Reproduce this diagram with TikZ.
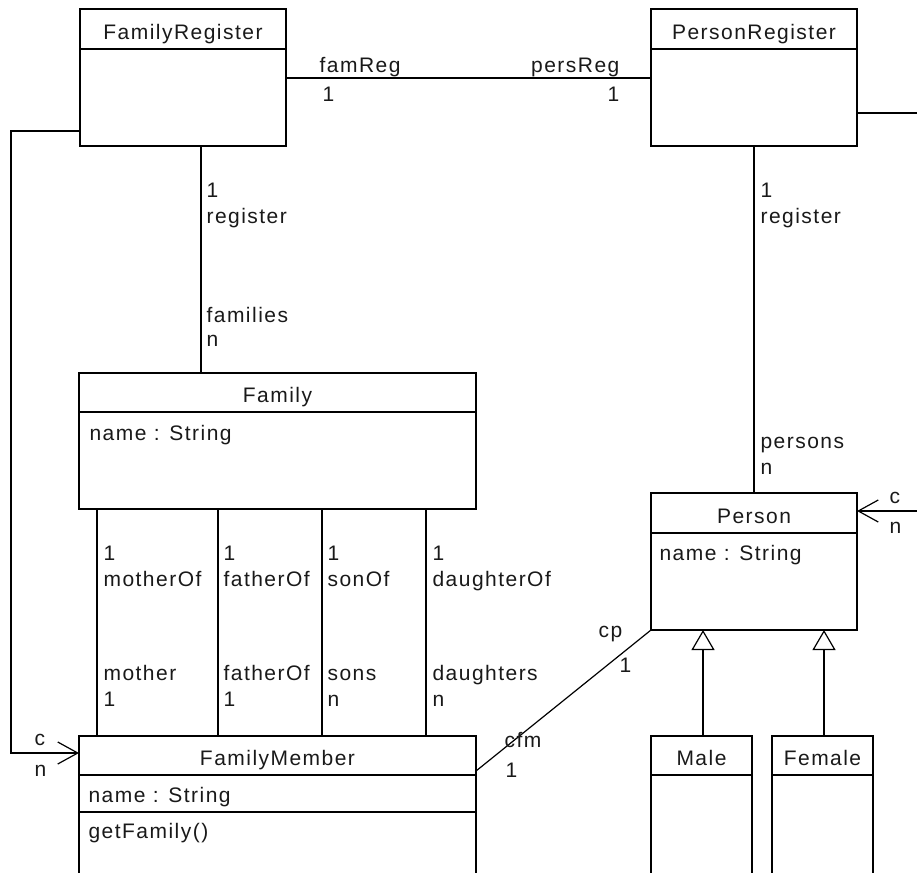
\documentclass[tikz,border=0pt]{standalone}
\usepackage{fontspec}
\setmainfont{Liberation Sans}[LetterSpace=7]
\usetikzlibrary{arrows.meta,calc}
\newcommand{\umlclass}[7]{%
  \node[box, minimum width=#4pt, minimum height=#5pt] (#1) at (#2,#3) {};
  \draw ([yshift=-#6pt]#1.north west) -- ([yshift=-#6pt]#1.north east);
  \node[ttl] (#1-title) at ([yshift=-#6pt+9.5pt]#1.north) {#7};
}
\begin{document}
\begin{tikzpicture}[x=1pt,y=-1pt,
  line width=1.2pt,
  box/.style={draw, rectangle, inner sep=0pt, outer sep=0pt, anchor=north west},
  txt/.style={inner sep=0pt, font=\fontsize{21pt}{25pt}\selectfont, text=black!90},
  lbl/.style={txt, anchor=base west},
  lblr/.style={txt, anchor=base east},
  ttl/.style={txt, anchor=base},
  openarrow/.style={-{Straight Barb[length=20pt,width=22pt,line width=1.2pt]}},
  inh/.style={-{Triangle[open,length=20pt,width=23pt,fill=white,line width=1.2pt]}},
]
\useasboundingbox (0,0) rectangle (917,872);

% classes
\umlclass{FR}{80}{9}{206}{137}{40}{FamilyRegister}
\umlclass{PR}{651}{9}{206}{137}{40}{PersonRegister}
\umlclass{Fam}{79}{373}{397}{136}{39}{Family}
\umlclass{FM}{79}{736}{397}{150}{39}{FamilyMember}
\draw ([yshift=-76pt]FM.north west) -- ([yshift=-76pt]FM.north east);
\umlclass{Per}{651}{493}{206}{137}{40}{Person}
\umlclass{Male}{651}{736}{101}{150}{39}{Male}
\umlclass{Fem}{772}{736}{101}{150}{39}{Female}

% attributes / operations
\node[lbl] (Fam-a) at ([xshift=10pt,yshift=-67pt]Fam.north west) {name : String};
\node[lbl] (FM-a) at ([xshift=9pt,yshift=-66pt]FM.north west) {name : String};
\node[lbl] (FM-o) at ([xshift=9pt,yshift=-102pt]FM.north west) {getFamily()};
\node[lbl] (Per-a) at ([xshift=8pt,yshift=-67pt]Per.north west) {name : String};

% connectors
\coordinate (frR) at ([yshift=-69pt]FR.north east);
\draw (frR) -- (frR -| PR.west);

\coordinate (prR) at ([yshift=-104pt]PR.north east);
\coordinate (prEnd) at (917,113);
\draw (prR) -- (prEnd);

\coordinate (frB) at ([xshift=18pt]FR.south);
\draw (frB) -- (frB |- Fam.north);
\draw (PR.south) -- (Per.north);

\coordinate (frL) at ([yshift=-122pt]FR.north west);
\coordinate (bend) at (11,131);
\coordinate (fmL) at ([yshift=-17pt]FM.north west);
\draw[openarrow] (frL) -- (bend) |- (fmL);

\foreach \dx in {18,139,243,347} {
  \draw ([xshift=\dx pt]Fam.south west) -- ([xshift=\dx pt]FM.north west);
}

\coordinate (fmR) at ([yshift=-35pt]FM.north east);
\draw (fmR) -- (Per.south west);

\coordinate (perEnd) at (917,511);
\draw[openarrow] (perEnd) -- (perEnd -| Per.east);

\coordinate (mT) at ([xshift=1.5pt]Male.north);
\draw[inh] (mT) -- (mT |- Per.south);
\coordinate (fT) at ([xshift=1.5pt]Fem.north);
\draw[inh] (fT) -- (fT |- Per.south);

% labels
\node[lbl] (l-famReg) at (319,73) {famReg};
\node[lbl] (l-famReg1) at (322,102) {1};
\node[lblr] (l-persReg) at (620,73) {persReg};
\node[lblr] (l-persReg1) at (620,102) {1};

\node[lbl] (l-fr1) at (206,197) {1};
\node[lbl] (l-frreg) at (206,223) {register};
\node[lbl] (l-fam) at (206,322) {families};
\node[lbl] (l-famn) at (206,346) {n};

\node[lbl] (l-pr1) at (760,197) {1};
\node[lbl] (l-prreg) at (760,223) {register};
\node[lbl] (l-pers) at (760,448) {persons};
\node[lbl] (l-persn) at (760,474) {n};

\node[lbl] (l-a1) at (103,560) {1};
\node[lbl] (l-a2) at (103,586) {motherOf};
\node[lbl] (l-a3) at (103,680) {mother};
\node[lbl] (l-a4) at (103,706) {1};
\node[lbl] (l-b1) at (223,560) {1};
\node[lbl] (l-b2) at (223,586) {fatherOf};
\node[lbl] (l-b3) at (223,680) {fatherOf};
\node[lbl] (l-b4) at (223,706) {1};
\node[lbl] (l-c1) at (327,560) {1};
\node[lbl] (l-c2) at (327,586) {sonOf};
\node[lbl] (l-c3) at (327,680) {sons};
\node[lbl] (l-c4) at (327,706) {n};
\node[lbl] (l-d1) at (432,560) {1};
\node[lbl] (l-d2) at (432,586) {daughterOf};
\node[lbl] (l-d3) at (432,680) {daughters};
\node[lbl] (l-d4) at (432,706) {n};

\node[lbl] (l-lc) at (34,745) {c};
\node[lbl] (l-ln) at (34,776) {n};
\node[lbl] (l-rc) at (889,503) {c};
\node[lbl] (l-rn) at (889,533) {n};

\node[lbl] (l-cp) at (598,637) {cp};
\node[lbl] (l-cp1) at (619,672) {1};
\node[lbl] (l-cfm) at (504,747) {cfm};
\node[lbl] (l-cfm1) at (505,777) {1};
\end{tikzpicture}
\end{document}
